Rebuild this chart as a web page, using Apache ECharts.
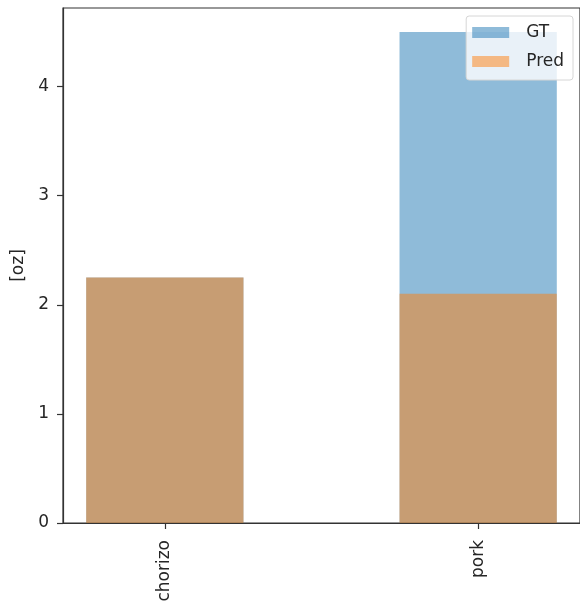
<!DOCTYPE html>
<html>
<head>
<meta charset="utf-8">
<script src="https://cdn.jsdelivr.net/npm/echarts@6/dist/echarts.min.js"></script>
<style>
  html, body { margin: 0; padding: 0; background: #fff; }
  #chart { width: 580px; height: 610px; }
</style>
</head>
<body>
<div id="chart"></div>
<script>
// Ingredient amounts in ounces: ground truth vs. predicted
const categories = ['chorizo', 'pork'];
const gtValues = [2.25, 4.5];
const predValues = [2.25, 2.1];
const yTicks = [0, 1, 2, 3, 4];

const FONT = 'DejaVu Sans';
const TEXT = '#262626';
const FS = 17;

// x positions 0..n-1 with matplotlib-style 5% margins around bars of width 0.5
const barW = 0.5;
const xMin = -barW / 2 - 0.075;
const xMax = categories.length - 1 + barW / 2 + 0.075;
const gridLeft = 63, gridTop = 8, gridWidth = 519, gridHeight = 515;
const barPx = gridWidth * barW / (xMax - xMin);

const chart = echarts.init(document.getElementById('chart'), null, { renderer: 'canvas' });

chart.setOption({
  animation: false,
  backgroundColor: '#ffffff',
  grid: {
    left: gridLeft, top: gridTop, width: gridWidth, height: gridHeight,
    show: true, borderColor: '#333', borderWidth: 1.2, backgroundColor: 'transparent'
  },
  legend: {
    right: 7, top: 16,
    orient: 'vertical',
    icon: 'rect',
    itemWidth: 37, itemHeight: 11, itemGap: 12,
    padding: [8, 9, 10, 6],
    backgroundColor: 'rgba(255,255,255,0.8)',
    borderColor: '#d6d6d6', borderWidth: 1, borderRadius: 3,
    textStyle: { fontFamily: FONT, fontSize: FS, color: TEXT, padding: [0, 0, 0, 12] },
    data: ['GT', 'Pred']
  },
  xAxis: {
    type: 'value',
    min: xMin, max: xMax,
    splitLine: { show: false },
    axisLine: { show: true, onZero: false, lineStyle: { color: '#333', width: 1.2 } },
    axisTick: {
      show: true, length: 6, inside: false,
      customValues: categories.map((_, i) => i),
      lineStyle: { color: '#333', width: 1.2 }
    },
    axisLabel: {
      rotate: 90, margin: 17,
      fontFamily: FONT, fontSize: FS, color: TEXT,
      customValues: categories.map((_, i) => i),
      formatter: v => categories[Math.round(v)]
    }
  },
  yAxis: {
    type: 'value',
    min: 0, max: 4.72, interval: 1,
    name: '[oz]', nameLocation: 'middle', nameGap: 34,
    nameTextStyle: { fontFamily: FONT, fontSize: FS, color: TEXT },
    splitLine: { show: false },
    axisLine: { show: true, onZero: false, lineStyle: { color: '#333', width: 1.2 } },
    axisTick: {
      show: true, length: 6,
      customValues: yTicks,
      lineStyle: { color: '#333', width: 1.2 }
    },
    axisLabel: {
      margin: 14, fontFamily: FONT, fontSize: FS, color: TEXT,
      customValues: yTicks,
      formatter: v => String(v)
    }
  },
  series: [
    {
      name: 'GT', type: 'bar',
      barWidth: barPx, barGap: '-100%',
      itemStyle: { color: '#1f77b4', opacity: 0.5 },
      data: gtValues.map((v, i) => [i, v])
    },
    {
      name: 'Pred', type: 'bar',
      barWidth: barPx, barGap: '-100%',
      itemStyle: { color: '#ff7f0e', opacity: 0.5 },
      data: predValues.map((v, i) => [i, v])
    }
  ]
});
</script>
</body>
</html>
